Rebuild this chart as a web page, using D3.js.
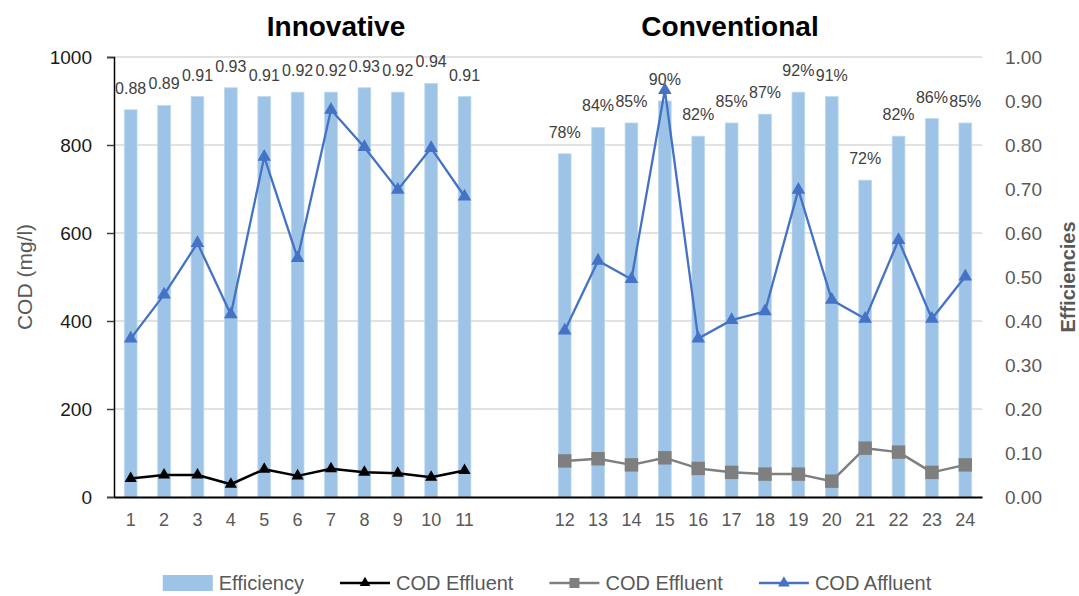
<!DOCTYPE html>
<html>
<head>
<meta charset="utf-8">
<script src="https://cdn.jsdelivr.net/npm/d3@7/dist/d3.min.js"></script>
<style>
  html, body { margin: 0; padding: 0; background: #fff; }
  svg { display: block; font-family: "Liberation Sans", Arial, sans-serif; }
</style>
</head>
<body>
<svg id="chart" width="1079" height="596"></svg>
<script>
// Plant identifiers for each group
const innovativeIds = ["1","2","3","4","5","6","7","8","9","10","11"];
const conventionalIds = ["12","13","14","15","16","17","18","19","20","21","22","23","24"];
const gapSlots = 2; // empty slots between the two groups

// Removal efficiency (right axis)
const effInnovative = [0.88,0.89,0.91,0.93,0.91,0.92,0.92,0.93,0.92,0.94,0.91];
const effConventional = [0.78,0.84,0.85,0.90,0.82,0.85,0.87,0.92,0.91,0.72,0.82,0.86,0.85];

// COD concentrations in mg/l (left axis)
const codEffluentInnovative = [42,50,50,29,63,48,64,56,54,45,60];
const codEffluentConventional = [82,87,73,89,65,56,52,52,36,111,102,56,73];
const codAffluentInnovative = [360,460,577,415,773,543,880,795,698,793,683];
const codAffluentConventional = [378,537,495,925,360,402,422,698,448,405,584,405,501];

// Axis ticks
const codTicks = [0,200,400,600,800,1000];
const effTicks = [0,0.1,0.2,0.3,0.4,0.5,0.6,0.7,0.8,0.9,1.0];

// Build one row per slot on the x axis
const rows = [];
innovativeIds.forEach((id, i) => rows.push({
  id, group: "inn", eff: effInnovative[i],
  effl: codEffluentInnovative[i], aff: codAffluentInnovative[i]
}));
for (let g = 0; g < gapSlots; g++) rows.push({ id: "", group: "gap", eff: null, effl: null, aff: null });
conventionalIds.forEach((id, i) => rows.push({
  id, group: "conv", eff: effConventional[i],
  effl: codEffluentConventional[i], aff: codAffluentConventional[i]
}));
rows.forEach((r, i) => r.slot = i);

const svg = d3.select("#chart");
const plot = { left: 114, right: 982, top: 57, bottom: 497 };

const x = d3.scaleBand()
  .domain(rows.map(r => r.slot))
  .range([plot.left, plot.right])
  .paddingInner(0.62)
  .paddingOuter(0.31);
const cx = s => x(s) + x.bandwidth() / 2;

const yCod = d3.scaleLinear().domain([0, 1000]).range([plot.bottom, plot.top]);
const yEff = d3.scaleLinear().domain([0, 1]).range([plot.bottom, plot.top]);

const textGray = "#595959";

// Gridlines
svg.append("g")
  .selectAll("line")
  .data(codTicks.filter(d => d > 0))
  .join("line")
  .attr("x1", plot.left).attr("x2", plot.right)
  .attr("y1", d => yCod(d)).attr("y2", d => yCod(d))
  .attr("stroke", "#d9d9d9").attr("stroke-width", 1.3);

// Efficiency bars
const barRows = rows.filter(r => r.eff != null);
svg.append("g")
  .selectAll("rect")
  .data(barRows)
  .join("rect")
  .attr("x", d => x(d.slot))
  .attr("width", x.bandwidth())
  .attr("y", d => yEff(d.eff))
  .attr("height", d => yEff(0) - yEff(d.eff))
  .attr("fill", "#9dc3e6")
  .attr("stroke", "#bdd7ee")
  .attr("stroke-width", 0.8);

// Bar value labels
const fmtInn = d3.format(".2f");
const fmtConv = d3.format(".0%");
svg.append("g")
  .selectAll("text")
  .data(barRows)
  .join("text")
  .attr("x", d => cx(d.slot))
  .attr("y", d => yEff(d.eff) - 16)
  .attr("text-anchor", "middle")
  .attr("font-size", 16)
  .attr("fill", "#404040")
  .text(d => d.group === "inn" ? fmtInn(d.eff) : fmtConv(d.eff));

// Left axis
const leftAxis = svg.append("g")
  .attr("transform", `translate(${plot.left},0)`)
  .call(d3.axisLeft(yCod).tickValues(codTicks).tickSize(7).tickPadding(15).tickFormat(d3.format("d")));
leftAxis.select(".domain").attr("stroke", "#000").attr("stroke-width", 1.5);
leftAxis.selectAll(".tick line").attr("stroke", "#404040").attr("stroke-width", 1.5);
leftAxis.selectAll(".tick text").attr("font-size", 19).attr("fill", "#1a1a1a")
  .attr("font-family", "Liberation Sans, Arial, sans-serif");

// Right axis
const rightAxis = svg.append("g")
  .attr("transform", `translate(${plot.right},0)`)
  .call(d3.axisRight(yEff).tickValues(effTicks).tickSize(0).tickPadding(23).tickFormat(d3.format(".2f")));
rightAxis.select(".domain").remove();
rightAxis.selectAll(".tick text").attr("font-size", 19).attr("fill", textGray)
  .attr("font-family", "Liberation Sans, Arial, sans-serif");

// Bottom axis
const bottomAxis = svg.append("g")
  .attr("transform", `translate(0,${plot.bottom})`)
  .call(d3.axisBottom(x).tickSize(0).tickPadding(16).tickFormat(s => rows[s].id));
bottomAxis.select(".domain").attr("stroke", "#000").attr("stroke-width", 2);
bottomAxis.selectAll(".tick text").attr("font-size", 18).attr("fill", textGray)
  .attr("font-family", "Liberation Sans, Arial, sans-serif");

// Series lines with markers
const series = [
  { name: "COD Effluent", key: "effl", group: "inn", color: "#000000", width: 2.5, symbol: d3.symbolTriangle, size: 64 },
  { name: "COD Effluent", key: "effl", group: "conv", color: "#7f7f7f", width: 2.5, symbol: d3.symbolSquare, size: 180 },
  { name: "COD Affluent", key: "aff", group: "all", color: "#4472c4", width: 2.3, symbol: d3.symbolTriangle, size: 80 }
];

series.forEach(s => {
  const data = rows.map(r => ({
    slot: r.slot,
    v: (s.group === "all" ? r.group !== "gap" : r.group === s.group) ? r[s.key] : null
  }));
  svg.append("path")
    .datum(data)
    .attr("fill", "none")
    .attr("stroke", s.color)
    .attr("stroke-width", s.width)
    .attr("stroke-linejoin", "round")
    .attr("d", d3.line().defined(d => d.v != null).x(d => cx(d.slot)).y(d => yCod(d.v)));
  svg.append("g")
    .selectAll("path")
    .data(data.filter(d => d.v != null))
    .join("path")
    .attr("transform", d => `translate(${cx(d.slot)},${yCod(d.v)})`)
    .attr("d", d3.symbol().type(s.symbol).size(s.size))
    .attr("fill", s.color);
});

// Group titles
svg.append("text")
  .attr("x", 336).attr("y", 36)
  .attr("text-anchor", "middle")
  .attr("font-size", 28).attr("font-weight", "bold").attr("fill", "#000")
  .text("Innovative");
svg.append("text")
  .attr("x", 730).attr("y", 36)
  .attr("text-anchor", "middle")
  .attr("font-size", 28).attr("font-weight", "bold").attr("fill", "#000")
  .text("Conventional");

// Axis titles
svg.append("text")
  .attr("transform", "translate(32,277) rotate(-90)")
  .attr("text-anchor", "middle")
  .attr("font-size", 21).attr("fill", textGray)
  .text("COD (mg/l)");
svg.append("text")
  .attr("transform", "translate(1075,277) rotate(-90)")
  .attr("text-anchor", "middle")
  .attr("font-size", 20).attr("font-weight", "bold").attr("fill", textGray)
  .text("Efficiencies");

// Legend
const legendItems = [
  { label: "Efficiency", kind: "bar", color: "#9dc3e6" },
  { label: "COD Effluent", kind: "line", color: "#000000", symbol: d3.symbolTriangle, size: 50 },
  { label: "COD Effluent", kind: "line", color: "#7f7f7f", symbol: d3.symbolSquare, size: 100 },
  { label: "COD Affluent", kind: "line", color: "#4472c4", symbol: d3.symbolTriangle, size: 60 }
];
const legend = svg.append("g");
const legendY = 583;
let lx = 0;
const keyW = 50, keyGap = 6, itemGap = 36;
legendItems.forEach(it => {
  const g = legend.append("g").attr("transform", `translate(${lx},0)`);
  if (it.kind === "bar") {
    g.append("rect").attr("x", 0).attr("y", legendY - 8).attr("width", keyW).attr("height", 16).attr("fill", it.color);
  } else {
    g.append("line").attr("x1", 0).attr("x2", keyW).attr("y1", legendY).attr("y2", legendY)
      .attr("stroke", it.color).attr("stroke-width", 2.5);
    g.append("path").attr("transform", `translate(${keyW / 2},${legendY})`)
      .attr("d", d3.symbol().type(it.symbol).size(it.size)).attr("fill", it.color);
  }
  const t = g.append("text").attr("x", keyW + keyGap).attr("y", legendY + 7)
    .attr("font-size", 20).attr("fill", textGray).text(it.label);
  lx += keyW + keyGap + t.node().getComputedTextLength() + itemGap;
});
const legendWidth = lx - itemGap;
legend.attr("transform", `translate(${547 - legendWidth / 2},0)`);
</script>
</body>
</html>
